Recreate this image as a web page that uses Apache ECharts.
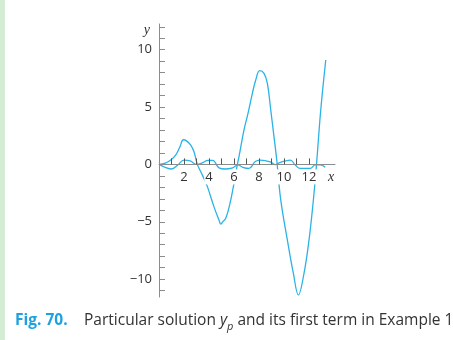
<!DOCTYPE html>
<html>
<head>
<meta charset="utf-8">
<script src="https://cdn.jsdelivr.net/npm/echarts@6/dist/echarts.min.js"></script>
<style>
  html, body { margin: 0; padding: 0; background: #fff; }
  #main { width: 448px; height: 340px; border-left: 5px solid #d4ebd4; }
</style>
</head>
<body>
<div id="main"></div>
<script>
// Particular solution y_p (large curve)
var bigX = [0, 0.5, 0.94, 1.33, 1.68, 1.95, 2.2, 2.54, 2.8, 3.07, 3.5, 3.87, 4.4, 4.8, 4.94, 5.1, 5.34, 5.68, 5.95, 6.27, 6.4, 6.8, 7.12, 7.47, 7.74, 8.06, 8.4, 8.67, 8.94, 9.2, 9.42, 9.74, 10.27, 10.75, 11.15, 11.6, 12.0, 12.35, 12.54, 12.67, 12.94, 13.34];
var bigY = [0, 0.12, 0.38, 0.8, 1.55, 2.15, 2.05, 1.69, 1.1, 0, -1.0, -1.94, -3.7, -4.85, -5.2, -5.0, -4.7, -3.4, -1.94, 0, 0.67, 3.0, 4.45, 6.2, 7.36, 8.17, 7.94, 7.07, 4.74, 2.4, 0.38, -3.1, -6.6, -9.5, -11.38, -9.5, -6.6, -3.1, -0.8, 0.97, 4.74, 9.1];
// First term (small oscillation)
var smallX = [0, 0.5, 1.0, 1.5, 2.0, 2.5, 3.0, 3.5, 3.9, 4.3, 4.8, 5.3, 5.9, 6.3, 6.7, 7.2, 7.7, 8.1, 8.9, 9.3, 9.7, 10.5, 10.9, 11.3, 12.1, 12.5, 12.9, 13.3];
var smallY = [0, -0.25, -0.4, -0.05, 0.38, 0.3, 0.0, 0.15, 0.35, 0.35, -0.3, -0.4, -0.3, -0.05, -0.25, -0.35, 0.25, 0.38, 0.23, -0.02, 0.18, 0.38, -0.05, -0.35, -0.35, -0.05, -0.05, -0.25];
var xTickValues = [1, 2, 3, 4, 5, 6, 7, 8, 9, 10, 11, 12];
var xLabelValues = [2, 4, 6, 8, 10, 12];
var yTickValues = [-11, -10, -9, -8, -7, -6, -5, -4, -3, -2, -1, 0, 1, 2, 3, 4, 5, 6, 7, 8, 9, 10, 11, 12];
var yLabelValues = [-10, -5, 0, 5, 10];

function pairs(xs, ys) { return xs.map(function (x, i) { return [x, ys[i]]; }); }

var blue = '#2ab3e6';
var axisGray = '#8c8c8c';
var yMin = -11.56, yMax = 12.24, gridH = 273;
var chart = echarts.init(document.getElementById('main'));
chart.setOption({
  animation: false,
  grid: { left: 154, top: 24, width: 176, height: gridH },
  xAxis: {
    type: 'value', min: 0, max: 14.08, z: 3, position: 'bottom',
    offset: -gridH * (0 - yMin) / (yMax - yMin),
    name: 'x', nameLocation: 'end', nameGap: -4,
    nameTextStyle: { fontFamily: 'Liberation Serif', fontStyle: 'italic', fontSize: 14, color: '#333', align: 'center', verticalAlign: 'top', padding: [6, 0, 0, 0] },
    axisLine: { onZero: false, lineStyle: { color: axisGray, width: 1 } },
    axisTick: { show: true, inside: true, length: 6, customValues: xTickValues, lineStyle: { color: '#555' } },
    axisLabel: { customValues: xLabelValues, fontFamily: 'Open Sans', fontSize: 13, color: '#333', margin: 5, backgroundColor: '#fff', padding: [1, 1, 1, 1] },
    splitLine: { show: false }
  },
  yAxis: {
    type: 'value', min: yMin, max: yMax,
    name: 'y', nameLocation: 'end', nameGap: -6,
    nameTextStyle: { fontFamily: 'Liberation Serif', fontStyle: 'italic', fontSize: 14, color: '#333', align: 'right', verticalAlign: 'middle', padding: [0, 9, 0, 0] },
    axisLine: { show: true, lineStyle: { color: axisGray, width: 1 } },
    axisTick: { show: true, inside: true, length: 6, customValues: yTickValues, lineStyle: { color: axisGray } },
    axisLabel: { customValues: yLabelValues, fontFamily: 'Open Sans', fontSize: 13, color: '#333', margin: 7,
      formatter: function (v) { return String(v).replace('-', '\u2212'); } },
    splitLine: { show: false }
  },
  title: {
    left: 10, top: 310, padding: 0,
    text: '{a|Fig. 70.}{b|Particular solution }{i|y}{s|p}{b| and its first term in Example 1}',
    textStyle: {
      fontWeight: 'normal',
      rich: {
        a: { fontFamily: 'Open Sans', fontWeight: 'bold', fontSize: 15.5, color: '#1ea2df', width: 69, lineHeight: 22 },
        b: { fontFamily: 'Open Sans', fontWeight: 'normal', fontSize: 15.5, color: '#333', lineHeight: 22 },
        i: { fontFamily: 'Open Sans', fontWeight: 'normal', fontStyle: 'italic', fontSize: 15.5, color: '#333', lineHeight: 22 },
        s: { fontFamily: 'Open Sans', fontWeight: 'normal', fontStyle: 'italic', fontSize: 11, color: '#333', lineHeight: 11, verticalAlign: 'bottom' }
      }
    }
  },
  series: [
    { type: 'line', data: pairs(bigX, bigY), smooth: 0.4, showSymbol: false, lineStyle: { color: blue, width: 1.3 }, z: 2 },
    { type: 'line', data: pairs(smallX, smallY), smooth: 0.4, showSymbol: false, lineStyle: { color: blue, width: 1.3 }, z: 2 }
  ]
});
</script>
</body>
</html>
